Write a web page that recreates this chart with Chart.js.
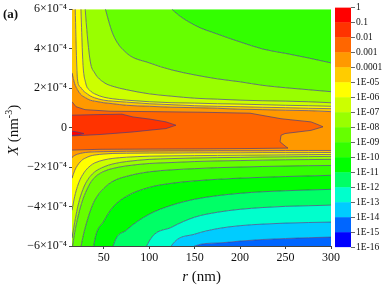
<!DOCTYPE html>
<html>
<head>
<meta charset="utf-8">
<script src="https://cdn.jsdelivr.net/npm/chart.js@4.4.0/dist/chart.umd.min.js"></script>
<style>
  html, body { margin: 0; padding: 0; background: #fff; }
  #wrap { position: relative; width: 382px; height: 286px; }
  #wrap canvas { position: absolute; left: 0; top: 0; }
</style>
</head>
<body>
<div id="wrap">
  <canvas id="plot" width="382" height="286"></canvas>
  <canvas id="cbar" width="382" height="286"></canvas>
</div>
<script>
// r grid (nm) shared by all contour lines; X values are in units of 1e-4 nm^-3
const R = [15, 18, 21, 24, 27, 30, 35, 40, 50, 60, 75, 100, 125, 150, 175, 200, 225, 250, 275, 300];

// outer limits (off the plot, only used to close the top / bottom bands)
const TOP = R.map(() => 12);
const BOTTOM = R.map(() => -12);

// upper half contour levels (1e-9 ... 1e-4)
const U9 = [12, 12, 12, 12, 12, 12, 12, 12, 12, 11, 9, 7.5, 6.0, 5.19, 4.74, 4.34, 3.98, 3.76, 3.53, 3.28];
const U8 = [12, 12, 12, 12, 12, 12, 11, 8, 6.3, 4.74, 3.78, 3.28, 2.92, 2.67, 2.47, 2.32, 2.14, 2.02, 1.92, 1.82];
const U7 = [12, 12, 11, 10, 8, 5.7, 3.38, 2.77, 2.29, 2.09, 1.92, 1.71, 1.59, 1.49, 1.44, 1.39, 1.36, 1.34, 1.31, 1.26];
const U6 = [12, 11, 9, 7, 3.28, 2.27, 1.87, 1.71, 1.54, 1.46, 1.39, 1.31, 1.26, 1.24, 1.21, 1.19, 1.16, 1.13, 1.11, 1.08];
const U5 = [12, 7, 2.47, 2.07, 1.89, 1.77, 1.61, 1.51, 1.39, 1.34, 1.29, 1.21, 1.16, 1.11, 1.08, 1.06, 1.03, 1.01, 0.98, 0.96];
const U4 = [2.77, 2.22, 1.92, 1.71, 1.59, 1.51, 1.39, 1.34, 1.26, 1.21, 1.13, 1.08, 1.03, 1.01, 0.98, 0.93, 0.91, 0.88, 0.86, 0.81];

// lower half contour levels (1e-4 ... 1e-14)
const L4 = [-1.51, -1.41, -1.35, -1.31, -1.28, -1.26, -1.24, -1.23, -1.22, -1.21, -1.20, -1.19, -1.18, -1.18, -1.17, -1.17, -1.17, -1.16, -1.16, -1.16];
const L5 = [-2.57, -2.17, -1.92, -1.74, -1.61, -1.54, -1.44, -1.39, -1.34, -1.31, -1.30, -1.29, -1.29, -1.28, -1.28, -1.28, -1.27, -1.27, -1.27, -1.26];
const L6 = [-4.19, -3.48, -2.98, -2.62, -2.37, -2.17, -1.94, -1.79, -1.64, -1.56, -1.50, -1.45, -1.43, -1.42, -1.41, -1.40, -1.39, -1.38, -1.37, -1.36];
const L7 = [-5.60, -4.79, -4.08, -3.53, -3.13, -2.82, -2.47, -2.24, -1.99, -1.84, -1.72, -1.61, -1.57, -1.54, -1.52, -1.51, -1.49, -1.48, -1.47, -1.46];
const L8 = [-6.2, -5.30, -4.64, -4.08, -3.63, -3.28, -2.82, -2.52, -2.22, -2.07, -1.94, -1.82, -1.77, -1.72, -1.69, -1.67, -1.65, -1.63, -1.62, -1.61];
const L9 = [-12, -10, -7.5, -6.3, -5.55, -4.99, -4.24, -3.68, -3.08, -2.72, -2.47, -2.24, -2.14, -2.08, -2.03, -2.00, -1.97, -1.95, -1.93, -1.92];
const L10 = [-12, -12, -12, -12, -12, -10, -7.5, -5.70, -4.74, -4.03, -3.48, -3.03, -2.82, -2.70, -2.62, -2.56, -2.52, -2.48, -2.45, -2.42];
const L11 = [-12, -12, -12, -12, -12, -12, -12, -12, -9, -6.05, -5.19, -4.39, -3.93, -3.63, -3.45, -3.33, -3.25, -3.20, -3.16, -3.13];
const L12 = [-12, -12, -12, -12, -12, -12, -12, -12, -12, -12, -9, -5.75, -5.04, -4.54, -4.29, -4.14, -4.05, -3.99, -3.96, -3.93];
const L13 = [-12, -12, -12, -12, -12, -12, -12, -12, -12, -12, -12, -9, -5.95, -5.40, -5.12, -4.97, -4.89, -4.84, -4.81, -4.79];
const L14 = [-12, -12, -12, -12, -12, -12, -12, -12, -12, -12, -12, -12, -9, -6.0, -5.85, -5.75, -5.67, -5.62, -5.58, -5.55];

// closed regions in the centre (outline points, r and X)
const C3_R = [5, 15, 19.4, 29.3, 56.8, 100.8, 155.8, 210.9, 245, 255, 278, 285.7, 291.2, 278, 263.7, 249.4, 245, 243.9, 250.5, 252.7, 210.9, 155.8, 100.8, 45.8, 15, 5];
const C3_X = [1.31, 1.31, 1.06, 0.91, 0.83, 0.81, 0.78, 0.73, 0.45, 0.40, 0.29, 0.15, 0.04, -0.14, -0.22, -0.30, -0.39, -0.72, -0.97, -1.04, -1.06, -1.08, -1.09, -1.10, -1.14, -1.14];
const C2_R = [5, 15, 45.8, 70, 82.1, 100.8, 118.4, 129.4, 118.4, 100.8, 82.1, 45.8, 15, 5];
const C2_X = [0.63, 0.63, 0.66, 0.68, 0.54, 0.43, 0.29, 0.12, -0.05, -0.13, -0.22, -0.35, -0.42, -0.42];
const C1_R = [5, 15, 21.6, 28.2, 21.6, 15, 5];
const C1_X = [-0.18, -0.18, -0.23, -0.30, -0.37, -0.40, -0.40];

// band colours (from above U9 down to below L14) and colour bar
const BAND_FILL = ['#33ff00', '#66ff00', '#99ff00', '#ccff00', '#ffff00', '#ffcc00', '#ff9900',
  '#ffcc00', '#ffff00', '#ccff00', '#99ff00', '#66ff00', '#33ff00', '#00ff00', '#00ff66', '#00ffcc', '#00ccff', '#0066ff'];
const CB_COLORS = ['#0000ff', '#0066ff', '#00ccff', '#00ffcc', '#00ff66', '#00ff00', '#33ff00', '#66ff00',
  '#99ff00', '#ccff00', '#ffff00', '#ffcc00', '#ff9900', '#ff6600', '#ff3300', '#ff0000'];
const CB_LABELS = ['1', '0.1', '0.01', '0.001', '0.0001', '1E-05', '1E-06', '1E-07', '1E-08',
  '1E-09', '1E-10', '1E-11', '1E-12', '1E-13', '1E-14', '1E-15', '1E-16'];
const X_TICKS = [50, 100, 150, 200, 250, 300];
const Y_TICKS = [-6, -4, -2, 0, 2, 4, 6];

const SERIF = "'Liberation Serif', 'Times New Roman', serif";
const LINE_COL = 'rgba(70,60,130,0.85)';

function pts(xs, ys) { return xs.map((x, i) => ({ x: x, y: ys[i] })); }

// build datasets: central closed shapes first (drawn on top), then banded lines
const datasets = [];
[[C1_R, C1_X, '#ff0000'], [C2_R, C2_X, '#ff3300'], [C3_R, C3_X, '#ff6600']].forEach(s => {
  datasets.push({ data: pts(s[0], s[1]), fill: 'shape', backgroundColor: s[2],
    borderColor: LINE_COL, borderWidth: 0.8, tension: 0 });
});
const bandLines = [TOP, U9, U8, U7, U6, U5, U4, L4, L5, L6, L7, L8, L9, L10, L11, L12, L13, L14, BOTTOM];
bandLines.forEach((ys, k) => {
  const edge = (k === 0 || k === bandLines.length - 1);
  datasets.push({
    data: pts(R, ys),
    fill: k === 0 ? false : '-1',
    backgroundColor: k === 0 ? 'transparent' : BAND_FILL[k - 1],
    borderColor: edge ? 'transparent' : LINE_COL,
    borderWidth: edge ? 0 : 0.8,
    cubicInterpolationMode: 'monotone'
  });
});

// axis titles and panel tag
const textPlugin = {
  id: 'texts',
  afterDraw(chart) {
    const c = chart.ctx;
    function run(parts, x, y) {
      let w = 0;
      parts.forEach(p => { c.font = p[0]; w += c.measureText(p[1]).width; });
      let cx = x - w / 2;
      parts.forEach(p => { c.font = p[0]; c.fillText(p[1], cx, y + (p[2] || 0)); cx += c.measureText(p[1]).width; });
    }
    c.save();
    c.fillStyle = '#111';
    c.textBaseline = 'alphabetic';
    c.textAlign = 'left';
    c.font = 'bold 13px ' + SERIF;
    c.fillText('(a)', 3, 18);
    const a = chart.chartArea;
    run([['italic 15px ' + SERIF, 'r'], ['15px ' + SERIF, ' (nm)']], (a.left + a.right) / 2, 281);
    c.translate(18, 130);
    c.rotate(-Math.PI / 2);
    run([['italic 15px ' + SERIF, 'X'], ['15px ' + SERIF, ' (nm'], ['10px ' + SERIF, '-3', -6], ['15px ' + SERIF, ')']], 0, 0);
    c.restore();
  }
};

new Chart(document.getElementById('plot'), {
  type: 'line',
  data: { datasets: datasets },
  options: {
    responsive: false,
    animation: false,
    layout: { padding: { left: 0, right: 51, top: 8, bottom: 0 } },
    plugins: {
      legend: { display: false },
      tooltip: { enabled: false },
      filler: { drawTime: 'beforeDatasetsDraw', propagate: false }
    },
    elements: { point: { radius: 0 } },
    scales: {
      x: {
        type: 'linear', min: 15, max: 300,
        afterBuildTicks: s => { s.ticks = X_TICKS.map(v => ({ value: v })); },
        afterFit: s => { s.height = 40; },
        ticks: { font: { family: SERIF, size: 12 }, color: '#111', maxRotation: 0, padding: 2 },
        grid: { drawOnChartArea: false, tickLength: 3, color: '#444' },
        border: { color: '#444' }
      },
      y: {
        type: 'linear', min: -6, max: 6,
        afterBuildTicks: s => { s.ticks = Y_TICKS.map(v => ({ value: v })); },
        afterFit: s => { s.width = 72; },
        ticks: {
          font: { family: SERIF, size: 12 }, color: '#111', padding: 2,
          callback: v => v === 0 ? '0' : (v < 0 ? '\u2212' : '') + Math.abs(v) + '\u00d710\u207b\u2074'
        },
        grid: { drawOnChartArea: false, tickLength: 3, color: '#444' },
        border: { color: '#444' }
      }
    }
  },
  plugins: [textPlugin]
});

// colour bar
new Chart(document.getElementById('cbar'), {
  type: 'bar',
  data: {
    labels: [''],
    datasets: CB_COLORS.map(c => ({ data: [1], backgroundColor: c, borderWidth: 0, barPercentage: 1, categoryPercentage: 1 }))
  },
  options: {
    responsive: false,
    animation: false,
    layout: { padding: { left: 335, right: 0, top: 7.5, bottom: 38.5 } },
    plugins: { legend: { display: false }, tooltip: { enabled: false } },
    scales: {
      x: { stacked: true, display: false },
      y: {
        stacked: true, position: 'right', min: 0, max: 16,
        afterBuildTicks: s => { s.ticks = CB_LABELS.map((_, i) => ({ value: i })); },
        afterFit: s => { s.width = 31; },
        ticks: { autoSkip: false, callback: v => CB_LABELS[16 - v], font: { family: SERIF, size: 9.5 }, color: '#111', padding: 1 },
        grid: { drawOnChartArea: false, tickLength: 4, color: '#666' },
        border: { display: false }
      }
    }
  }
});
</script>
</body>
</html>
